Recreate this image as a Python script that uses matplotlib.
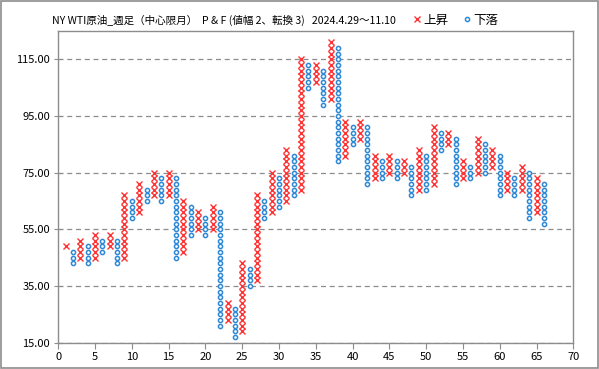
import numpy as np
import matplotlib
matplotlib.use('Agg')
import matplotlib.pyplot as plt
from matplotlib.patches import Rectangle

plt.rcParams['font.family'] = ['Noto Sans CJK JP', 'DejaVu Sans']

# P&F columns: odd columns rising (X), even columns falling (O)
col_low = [49, 43, 45, 43, 45, 47, 49, 43, 45, 59, 61, 65, 67, 65, 67, 45, 47, 53, 55, 53,
           55, 21, 23, 17, 19, 35, 37, 59, 61, 63, 65, 67, 69, 105, 107, 99, 101, 79, 81, 85,
           87, 71, 73, 73, 75, 73, 75, 67, 69, 69, 71, 83, 85, 71, 73, 73, 75, 75, 77, 67,
           69, 67, 69, 59, 61, 57]
col_high = [49, 47, 51, 49, 53, 51, 53, 51, 67, 65, 71, 69, 75, 73, 75, 73, 65, 63, 61, 59,
            63, 61, 29, 27, 43, 41, 67, 65, 75, 73, 83, 81, 115, 113, 113, 111, 121, 119, 93, 91,
            93, 91, 81, 79, 81, 79, 79, 77, 83, 81, 91, 89, 89, 87, 79, 77, 87, 85, 83, 81,
            75, 73, 77, 75, 73, 71]
box = 2
title = 'NY WTI原油_週足（中心限月）  P & F (値幅 2、転換 3)   2024.4.29～11.10'

up_x, up_y, dn_x, dn_y = [], [], [], []
for i, (lo, hi) in enumerate(zip(col_low, col_high)):
    vals = np.arange(lo, hi + 1, box)
    if i % 2 == 0:
        up_x += [i + 1] * len(vals)
        up_y += list(vals)
    else:
        dn_x += [i + 1] * len(vals)
        dn_y += list(vals)

fig = plt.figure(figsize=(5.99, 3.69), dpi=100)
ax = fig.add_axes([0.0973, 0.0713, 0.8598, 0.8447])

ax.plot(up_x, up_y, linestyle='none', marker='x', ms=4.2, mew=1.0,
        color='#ff3333', label='上昇')
ax.plot(dn_x, dn_y, linestyle='none', marker='o', ms=3.0, mew=1.1,
        mec='#2e8ad8', mfc='white', label='下落')

ax.set_xlim(0, 70)
ax.set_ylim(15, 125)
ax.set_xticks(range(0, 71, 5))
ax.set_yticks(range(15, 116, 20))
ax.yaxis.set_major_formatter(matplotlib.ticker.FormatStrFormatter('%.2f'))
ax.grid(axis='y', linestyle=(0, (4, 3)), color='#8c8c8c', linewidth=0.9)
ax.set_axisbelow(True)
for s in ax.spines.values():
    s.set_color('#8c8c8c')
    s.set_linewidth(1)
ax.tick_params(axis='x', direction='out', length=4, color='#8c8c8c', labelsize=8, pad=3)
ax.tick_params(axis='y', direction='inout', length=6, color='#8c8c8c', labelsize=8, pad=3)

fig.text(0.086, 0.945, title, fontsize=7.6, va='center', ha='left')
ax.legend(loc='center left', bbox_to_anchor=(0.68, 0.945), bbox_transform=fig.transFigure,
          ncol=2, frameon=False, fontsize=9, handlelength=0.5, handletextpad=0.25,
          columnspacing=1.3, borderpad=0, markerscale=1.0)

fig.patches.append(Rectangle((0.0015, 0.0015), 0.997, 0.996, transform=fig.transFigure,
                             fill=False, edgecolor='#8c8c8c', linewidth=1.2))

fig.savefig('out.png', dpi=100)
